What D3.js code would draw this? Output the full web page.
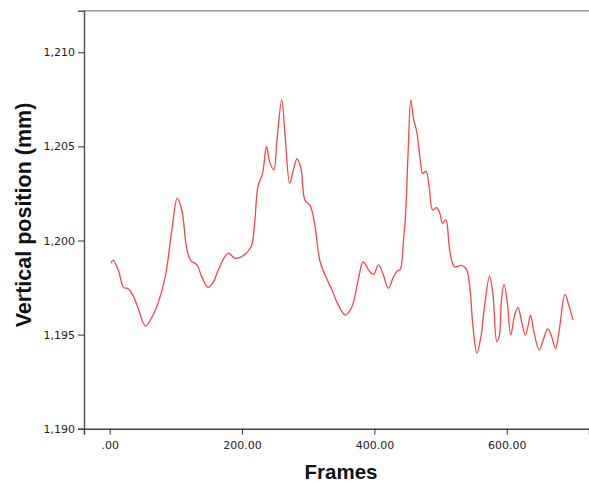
<!DOCTYPE html>
<html><head><meta charset="utf-8">
<script src="https://cdn.jsdelivr.net/npm/d3@7"></script>
<style>body{margin:0;background:#fff;}svg{display:block;}</style>
</head><body>
<svg id="c" width="589" height="483"></svg>
<script>
const frames = [2,5,13,21,28,35,43,54,63,73,84,94,102,109,116,122,132,139,149,157,164,179,190,203,214,219,224,231,237,242,248,253,260,265,272,277,283,289,295,303,310,318,330,336,343,356,366,376,383,393,399,406,413,421,429,435,439,444,447,451,455,459,464,469,473,478,483,488,494,499,503,508,514,521,532,539,544,549,555,561,567,574,579,585,589,592,596,601,606,612,617,623,628,632,636,641,649,655,662,667,674,679,688,693,700];
const positions = [1198.79,1198.96,1198.43,1197.51,1197.44,1197.10,1196.40,1195.46,1195.87,1196.66,1198.08,1200.56,1202.24,1201.62,1199.67,1198.96,1198.70,1198.08,1197.51,1197.81,1198.43,1199.32,1199.05,1199.23,1199.70,1200.90,1202.86,1203.57,1204.98,1204.15,1203.75,1205.43,1207.47,1205.61,1203.04,1203.66,1204.33,1203.84,1202.15,1201.85,1200.82,1198.87,1197.81,1197.37,1196.75,1196.04,1196.48,1197.99,1198.86,1198.34,1198.20,1198.70,1198.23,1197.46,1198.08,1198.39,1198.45,1200.03,1201.30,1204.72,1207.47,1206.49,1205.78,1204.37,1203.57,1203.69,1202.77,1201.62,1201.74,1201.44,1200.91,1201.09,1199.45,1198.60,1198.68,1198.48,1197.60,1195.42,1194.01,1194.89,1196.66,1198.11,1197.19,1194.62,1194.98,1196.84,1197.67,1196.66,1194.98,1196.04,1196.45,1195.60,1194.98,1195.42,1196.04,1195.15,1194.18,1194.71,1195.30,1194.98,1194.27,1195.15,1197.14,1196.66,1195.78];
const xTicks = [0,200,400,600];
const xTickLabels = [".00","200.00","400.00","600.00"];
const yTicks = [1190,1195,1200,1205,1210];
const yTickLabels = ["1,190","1,195","1,200","1,205","1,210"];
const xTitle = "Frames";
const yTitle = "Vertical position (mm)";

const svg = d3.select("#c");
const L = 84, R = 589, T = 10.7, B = 428.7;
const x = d3.scaleLinear().domain([-38.8, 724.3]).range([L, R]);
const y = d3.scaleLinear().domain([1190, 1212.21]).range([B, T]);

// top frame line
svg.append("line").attr("x1", L).attr("x2", R).attr("y1", T).attr("y2", T)
  .attr("stroke", "#9a9a9a").attr("stroke-width", 1.5);

const data = frames.map((f, i) => ({f, v: positions[i]}));
const line = d3.line().x(d => x(d.f)).y(d => y(d.v)).curve(d3.curveCatmullRom.alpha(0.5));
svg.append("path").datum(data).attr("d", line)
  .attr("fill", "none").attr("stroke", "#f04848").attr("stroke-width", 1.3);

const yAxis = d3.axisLeft(y).tickValues(yTicks)
  .tickFormat((d, i) => yTickLabels[i]).tickSizeOuter(0).tickSize(6).tickPadding(3);
const gy = svg.append("g").attr("transform", `translate(${L},0)`).call(yAxis);
gy.select(".domain").attr("stroke", "#555").attr("stroke-width", 1.5);
gy.selectAll(".tick line").attr("stroke", "#333");
gy.selectAll("text").attr("font-family", "DejaVu Sans").attr("font-size", 11).attr("fill", "#222");

const xAxis = d3.axisBottom(x).tickValues(xTicks)
  .tickFormat((d, i) => xTickLabels[i]).tickSizeOuter(0).tickSize(6).tickPadding(7);
const gx = svg.append("g").attr("transform", `translate(0,${B})`).call(xAxis);
gx.select(".domain").attr("stroke", "#444").attr("stroke-width", 1.5);
gx.selectAll(".tick line").attr("stroke", "#333");
gx.selectAll("text").attr("font-family", "DejaVu Sans").attr("font-size", 11).attr("fill", "#222");

svg.append("text").attr("x", 341).attr("y", 479).attr("text-anchor", "middle")
  .attr("font-family", "Liberation Sans, Arial, sans-serif").attr("font-weight", "bold")
  .attr("font-size", 20.5).attr("fill", "#111").text(xTitle);
svg.append("text").attr("transform", "translate(31,215) rotate(-90)").attr("text-anchor", "middle")
  .attr("font-family", "Liberation Sans, Arial, sans-serif").attr("font-weight", "bold")
  .attr("font-size", 21.5).attr("fill", "#111").text(yTitle);
</script>
</body></html>
